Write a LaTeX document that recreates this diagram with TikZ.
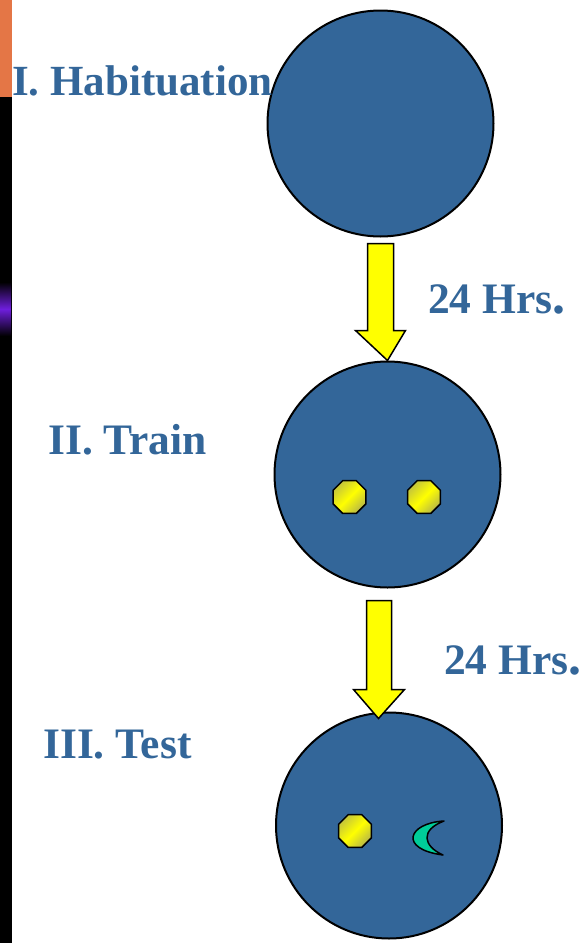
\documentclass[tikz,border=0pt]{standalone}
\usepackage{fontspec}
\setmainfont{Liberation Serif}
\usetikzlibrary{shapes.geometric}
\definecolor{slideblue}{RGB}{51,102,153}
\definecolor{arrowyellow}{RGB}{255,255,0}
\definecolor{objgreen}{RGB}{0,204,153}
\definecolor{stripor}{RGB}{228,118,70}
\definecolor{stripviolet}{RGB}{110,30,220}
\newcommand{\bigdot}{{\fontsize{52}{52}\selectfont.}}
\tikzset{
  phase/.style={font=\fontsize{43.5}{48}\selectfont\bfseries, text=slideblue, inner sep=0pt, anchor=base west},
  arena/.style={circle, draw=black, line width=2pt, fill=slideblue, minimum size=226pt, inner sep=0pt},
  toy/.style={regular polygon, regular polygon sides=8, minimum size=35.5pt, inner sep=0pt,
    draw=black, line width=1.5pt, top color=yellow!55!gray, bottom color=yellow!45!gray,
    middle color=yellow, shading angle=45},
  novel/.style={draw=black, line width=1.5pt, fill=objgreen, line join=round},
  bigarrow/.style={draw=black, line width=1.5pt, fill=arrowyellow, line join=miter}
}
\begin{document}
\begin{tikzpicture}[x=1pt, y=-1pt]
\useasboundingbox (0,0) rectangle (584,943);
% slide edge on the left
\fill[black] (0,0) rectangle (12,943);
\fill[stripor] (0,0) rectangle (12,97);
\shade[top color=black, bottom color=black, middle color=stripviolet] (0,282) rectangle (11,336);

% arenas
\node[arena] (hab)   at (380.5,123.5) {};
\node[arena] (train) at (387.5,474.5) {};
\node[arena] (test)  at (389,825.5) {};

% phase labels
\node[phase, font=\fontsize{43}{48}\selectfont\bfseries] (lhab) at (12,95) {I. Habituation};
\node[phase] (ltrain) at (48,454) {II. Train};
\node[phase] (ltest)  at (43,758) {III. Test};
\node[phase] (d1) at (428,313) {24 Hrs\bigdot};
\node[phase] (d2) at (444,674) {24 Hrs\bigdot};

% arrows between phases
\coordinate (a1) at (hab.south);
\coordinate (a2) at (train.south);
\draw[bigarrow] ([xshift=-13pt,yshift=-6pt]a1) -- ([xshift=-13pt,yshift=-93pt]a1)
  -- ([xshift=-25pt,yshift=-93pt]a1) -- (train.north)
  -- ([xshift=25pt,yshift=-93pt]a1) -- ([xshift=13pt,yshift=-93pt]a1)
  -- ([xshift=13pt,yshift=-6pt]a1) -- cycle;
\draw[bigarrow] ([xshift=-21pt,yshift=-12pt]a2) -- ([xshift=-21pt,yshift=-101pt]a2)
  -- ([xshift=-34pt,yshift=-101pt]a2) -- ([xshift=-9pt,yshift=-130pt]a2)
  -- ([xshift=17pt,yshift=-101pt]a2) -- ([xshift=4pt,yshift=-101pt]a2)
  -- ([xshift=4pt,yshift=-12pt]a2) -- cycle;

% objects
\node[toy] (o1) at (349.5,497) {};
\node[toy] (o2) at (424,497) {};
\node[toy] (o3) at (355,831) {};
\draw[novel] (444,821) .. controls (408,823) and (398,849) .. (443,855)
  .. controls (423,846) and (420,830) .. (444,821) -- cycle;
\end{tikzpicture}
\end{document}
